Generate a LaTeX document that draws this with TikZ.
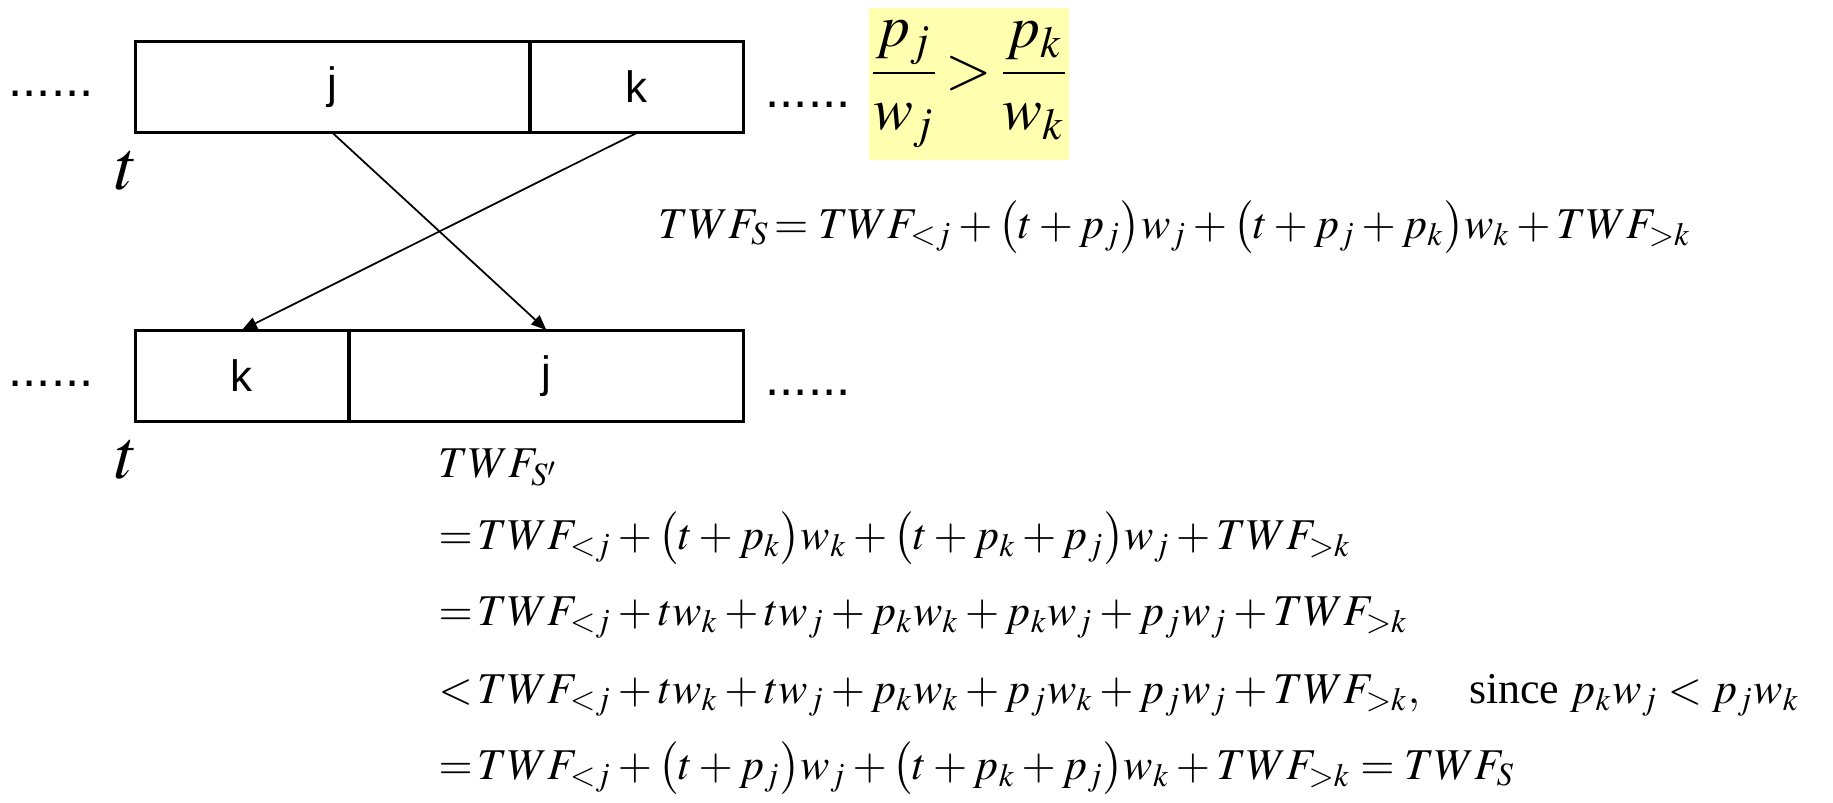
\documentclass[tikz,border=0pt]{standalone}
\usepackage{amsmath}
\usepackage{mathptmx}
\usepackage{fontspec}
\setmainfont{Liberation Serif}
\setsansfont{Liberation Sans}
\usetikzlibrary{positioning, arrows.meta}
\definecolor{ratioyellow}{RGB}{255,255,175}
\tikzset{
    cell/.style={rectangle, draw=black, line width=0.5pt, minimum height=0.9cm, inner sep=0pt, font=\sffamily\fontsize{12.5}{15}\selectfont},
    frame/.style={draw=black, line width=0.75pt},
    dots/.style={font=\sffamily\fontsize{14.5}{17}\selectfont, anchor=base, inner sep=0pt},
    tlbl/.style={font=\fontsize{20}{24}\selectfont, anchor=base, inner sep=0pt},
    eqline/.style={anchor=base west, inner sep=0pt, font=\fontsize{12.5}{15}\selectfont},
    ratiobox/.style={rectangle, fill=ratioyellow, minimum width=1.86cm, minimum height=1.51cm, inner sep=0pt, font=\fontsize{17}{20}\selectfont},
    swap/.style={-{Triangle[length=4.3pt, width=3.5pt]}, line width=0.5pt}
}

\begin{document}
\begin{tikzpicture}[x=0.01cm, y=-0.01cm]
    \useasboundingbox (0,0) rectangle (1833,802);
    % schedule S
    \node[cell, minimum width=3.93cm, anchor=north west] (topj) at (135,41) {j};
    \node[cell, minimum width=2.12cm, right=0pt of topj] (topk) {k};
    \draw[frame] (topj.north west) rectangle (topk.south east);
    \node[dots] (dotsTL) at (51,96) {......};
    \node[dots] (dotsTR) at (808,107) {......};
    \node[tlbl] (tTop) at (127,189) {$t$};
    \node[ratiobox] (ratio) at (969,84) {$\dfrac{p_j}{w_j}\!>\!\dfrac{p_k}{w_k}$};

    % schedule S'
    \node[cell, minimum width=2.12cm, anchor=north west] (botk) at (135,330) {k};
    \node[cell, minimum width=3.93cm, right=0pt of botk] (botj) {j};
    \draw[frame] (botk.north west) rectangle (botj.south east);
    \node[dots] (dotsBL) at (51,386) {......};
    \node[dots] (dotsBR) at (808,395) {......};
    \node[tlbl] (tBot) at (127,478) {$t$};

    \draw[swap] (topj.south) -- (botj.north);
    \draw[swap] (topk.south) -- (botk.north);

    % weighted flow times
    \node[eqline] (eqS) at (658,238) {$TWF_S\!=TWF_{<j}+\bigl(t+p_j\bigr)w_j+\bigl(t+p_j+p_k\bigr)w_k+TWF_{>k}$};
    \node[eqline] (eqSp) at (438,477) {$TWF_{S'}$};
    \node[eqline] (eqa) at (438,549) {${=}\,TWF_{<j}+\bigl(t+p_k\bigr)w_k+\bigl(t+p_k+p_j\bigr)w_j+TWF_{>k}$};
    \node[eqline] (eqb) at (438,625) {${=}\,TWF_{<j}+tw_k+tw_j+p_kw_k+p_kw_j+p_jw_j+TWF_{>k}$};
    \node[eqline] (eqc) at (438,703) {${<}\,TWF_{<j}+tw_k+tw_j+p_kw_k+p_jw_k+p_jw_j+TWF_{>k},\quad\text{since }p_kw_j<p_jw_k$};
    \node[eqline] (eqd) at (438,779) {${=}\,TWF_{<j}+\bigl(t+p_j\bigr)w_j+\bigl(t+p_k+p_j\bigr)w_k+TWF_{>k}=TWF_S$};
\end{tikzpicture}
\end{document}
